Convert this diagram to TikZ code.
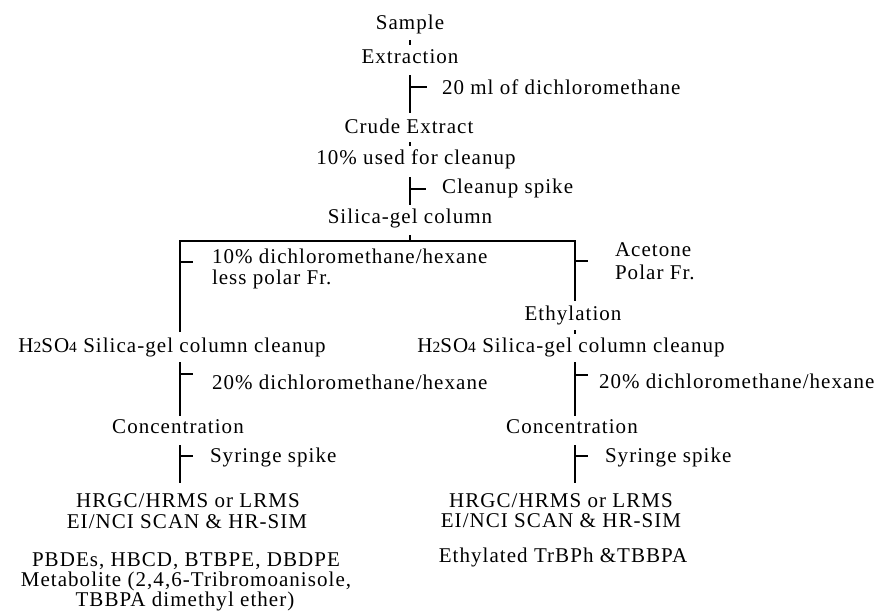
\documentclass[tikz,border=0pt]{standalone}
\usepackage{fontspec}
\setmainfont{Liberation Serif}[LetterSpace=5]
\newcommand\subnum[1]{\raisebox{-0.5pt}{\fontsize{15.5}{15.5}\selectfont #1}}
\begin{document}
\begin{tikzpicture}[x=1pt,y=-1pt,
  lbl/.style={inner sep=0pt,outer sep=0pt,anchor=base,font=\fontsize{21}{21}\selectfont},
  lblw/.style={lbl,anchor=base west},
  conn/.style={line width=1.2pt,line cap=butt}]
\useasboundingbox (0,0) rectangle (884,613);
% centre column
\node[lbl] (sample) at (410,29) {Sample};
\node[lbl] (extr) at (410,63) {Extraction};
\node[lblw] (dcm) at (442,94) {20 ml of dichloromethane};
\node[lbl] (crude) at (409,133) {Crude Extract};
\node[lbl] (used) at (416,164) {10\% used for cleanup};
\node[lblw] (cspike) at (442,193) {Cleanup spike};
\node[lbl] (silica) at (410,223) {Silica-gel column};
% branches
\node[lblw] (dcmhex) at (212,263) {10\% dichloromethane/hexane};
\node[lblw] (lpol) at (212,284) {less polar Fr.};
\node[lblw] (acet) at (615,256) {Acetone};
\node[lblw] (pol) at (615,279) {Polar Fr.};
\node[lbl] (ethyl) at (573,320) {Ethylation};
\node[lbl] (hL) at (172,352) {H\subnum{2}SO\subnum{4} Silica-gel column cleanup};
\node[lbl] (hR) at (571,352) {H\subnum{2}SO\subnum{4} Silica-gel column cleanup};
\node[lblw] (twL) at (212,389) {20\% dichloromethane/hexane};
\node[lblw] (twR) at (599,388) {20\% dichloromethane/hexane};
\node[lbl] (concL) at (178,433) {Concentration};
\node[lbl] (concR) at (572,433) {Concentration};
\node[lblw] (syL) at (210,462) {Syringe spike};
\node[lblw] (syR) at (605,462) {Syringe spike};
\node[lbl] (hrL) at (188,507) {HRGC/HRMS or LRMS};
\node[lbl] (eiL) at (187,528) {EI/NCI SCAN \& HR-SIM};
\node[lbl] (pbL) at (186,566) {PBDEs, HBCD, BTBPE, DBDPE};
\node[lbl] (meL) at (186,586) {Metabolite (2,4,6-Tribromoanisole,};
\node[lbl] (tbL) at (185,606) {TBBPA dimethyl ether)};
\node[lbl] (hrR) at (561,507) {HRGC/HRMS or LRMS};
\node[lbl] (eiR) at (561,527) {EI/NCI SCAN \& HR-SIM};
\node[lbl] (etR) at (563,562) {Ethylated TrBPh \&TBBPA};
% connector points
\coordinate (a1) at (410,40); \coordinate (a2) at (410,45);
\coordinate (b1) at (410,75); \coordinate (b2) at (410,113);
\coordinate (bt) at (410,87); \coordinate (bte) at (427,87);
\coordinate (c1) at (410,142); \coordinate (c2) at (410,146);
\coordinate (d1) at (410,177); \coordinate (d2) at (410,205);
\coordinate (dt) at (410,189); \coordinate (dte) at (426,189);
\coordinate (e1) at (410,235); \coordinate (e2) at (410,241);
\coordinate (hl) at (180,241); \coordinate (hr) at (575,241);
\coordinate (lv) at (180,332); \coordinate (lt) at (180,262); \coordinate (lte) at (193,262);
\coordinate (rv) at (575,301); \coordinate (rt) at (575,261); \coordinate (rte) at (588,261);
\coordinate (f1) at (575,330); \coordinate (f2) at (575,334);
\coordinate (gL1) at (180,362); \coordinate (gL2) at (180,416);
\coordinate (gLt) at (180,374); \coordinate (gLte) at (193,374);
\coordinate (gR1) at (575,362); \coordinate (gR2) at (575,416);
\coordinate (gRt) at (575,375); \coordinate (gRte) at (588,375);
\coordinate (kL1) at (180,445); \coordinate (kL2) at (180,483);
\coordinate (kLt) at (180,456); \coordinate (kLte) at (193,456);
\coordinate (kR1) at (575,445); \coordinate (kR2) at (575,483);
\coordinate (kRt) at (575,456); \coordinate (kRte) at (588,456);
% connectors
\draw[conn] (a1) -- (a2);
\draw[conn] (b1) -- (b2); \draw[conn] (bt) -- (bte);
\draw[conn] (c1) -- (c2);
\draw[conn] (d1) -- (d2); \draw[conn] (dt) -- (dte);
\draw[conn] (e1) -- (e2);
\draw[conn] (lv) -- (hl) -- (hr) -- (rv);
\draw[conn] (lt) -- (lte);
\draw[conn] (rt) -- (rte);
\draw[conn] (f1) -- (f2);
\draw[conn] (gL1) -- (gL2); \draw[conn] (gLt) -- (gLte);
\draw[conn] (gR1) -- (gR2); \draw[conn] (gRt) -- (gRte);
\draw[conn] (kL1) -- (kL2); \draw[conn] (kLt) -- (kLte);
\draw[conn] (kR1) -- (kR2); \draw[conn] (kRt) -- (kRte);
\end{tikzpicture}
\end{document}
